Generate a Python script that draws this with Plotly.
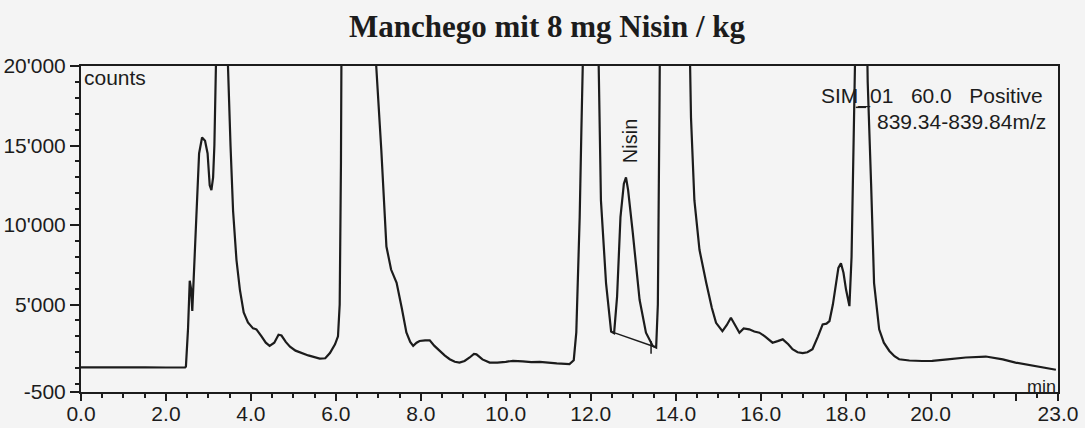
import plotly.graph_objects as go

# Chromatogram trace (time in min, intensity in counts); values above 20'000 are off-scale
time_min = [0.0, 0.5, 1.0, 1.5, 2.0, 2.45, 2.47, 2.52, 2.56, 2.59, 2.62, 2.66, 2.72, 2.78, 2.85,
            2.92, 2.98, 3.03, 3.07, 3.11, 3.14, 3.18, 3.22, 3.42, 3.46, 3.52, 3.58, 3.66, 3.74,
            3.83, 3.93, 4.05, 4.13, 4.25, 4.35, 4.44, 4.55, 4.65, 4.72, 4.82, 4.92, 5.05, 5.15,
            5.35, 5.62, 5.75, 5.86, 5.98, 6.05, 6.09, 6.12, 6.14, 6.92, 6.95, 7.07, 7.19, 7.30,
            7.43, 7.55, 7.66, 7.75, 7.82, 7.90, 7.97, 8.10, 8.21, 8.32, 8.44, 8.56, 8.68, 8.80,
            8.91, 9.03, 9.15, 9.25, 9.31, 9.45, 9.62, 9.80, 10.0, 10.17, 10.4, 10.6, 10.8, 10.95,
            11.2, 11.5, 11.60, 11.66, 11.74, 11.78, 11.82, 11.86, 12.15, 12.20, 12.24, 12.36,
            12.48, 12.55, 12.62, 12.70, 12.78, 12.83, 12.88, 12.99, 13.07, 13.15, 13.30, 13.46,
            13.54, 13.58, 13.62, 13.64, 14.30, 14.34, 14.36, 14.44, 14.56, 14.72, 14.85, 14.95,
            15.1, 15.2, 15.3, 15.4, 15.5, 15.6, 15.73, 15.85, 15.97, 16.1, 16.28, 16.4, 16.52,
            16.65, 16.75, 16.87, 16.99, 17.1, 17.22, 17.35, 17.46, 17.55, 17.62, 17.70, 17.77,
            17.83, 17.89, 17.95, 18.01, 18.09, 18.14, 18.18, 18.22, 18.26, 18.48, 18.52, 18.6,
            18.67, 18.79, 18.9, 19.03, 19.15, 19.26, 19.5, 19.8, 20.04, 20.4, 20.83, 21.3, 21.7,
            22.0, 22.5, 22.95]
counts = [1050, 1060, 1040, 1050, 1040, 1040, 1100, 3500, 6500, 6000, 4600, 7000, 11000, 14500, 15500,
          15300, 14500, 12500, 12200, 13000, 15000, 20500, 26000, 26000, 20000, 15000, 10900, 7800, 5940,
          4500, 3870, 3500, 3440, 3000, 2600, 2400, 2600, 3100, 3050, 2650, 2350, 2100, 2000,
          1800, 1600, 1620, 1950, 2500, 3000, 5000, 14000, 26000, 26000, 20000, 14700, 8650, 7200,
          6370, 4800, 3250, 2650, 2400, 2600, 2710, 2750, 2750, 2400, 2080, 1800, 1560, 1400,
          1350, 1450, 1670, 1900, 1870, 1550, 1350, 1350, 1400, 1460, 1420, 1380, 1400, 1350,
          1300, 1250, 1500, 3250, 10500, 16000, 21000, 26000, 26000, 17000, 11560, 6350,
          3300, 3200, 5500, 10500, 12600, 13000, 12200, 9500, 7300, 5300, 3230, 2400,
          2300, 5000, 18000, 26000, 26000, 20000, 16770, 11560, 8440, 6350, 4800, 3850,
          3330, 3700, 4170, 3700, 3230, 3500, 3440, 3300, 3230, 3000, 2600, 2700, 2810,
          2500, 2190, 2000, 1940, 2000, 2190, 3000, 3750, 3800, 3960, 5000, 6350,
          7300, 7600, 7000, 5940, 4900, 8000, 14000, 20000, 26000, 26000, 19000, 12600,
          6350, 3440, 2600, 2080, 1750, 1560, 1480, 1450, 1460, 1550, 1670, 1730, 1550,
          1350, 1100, 900]

# Nisin integration baseline and markers
nisin_base_t = [12.53, 13.50]
nisin_base_c = [3250, 2350]
nisin_mark_t = [13.42, 13.42]
nisin_mark_c = [2700, 1900]
sim_mark_t = [18.24, 18.48]
sim_mark_c = [17400, 17400]

x_major = [0, 2, 4, 6, 8, 10, 12, 14, 16, 18, 20, 22, 23]
x_major_text = ["0.0", "2.0", "4.0", "6.0", "8.0", "10.0", "12.0", "14.0", "16.0", "18.0", "20.0", "", "23.0"]
x_minor = [v + 0.5 for v in range(0, 23)] + [v for v in range(1, 23, 2)]
y_major = [-500, 5000, 10000, 15000, 20000]
y_major_text = ["-500", "5'000", "10'000", "15'000", "20'000"]
y_minor = [v for v in range(0, 20000, 1000) if v % 5000 != 0] + [0]

title = "Manchego mit 8 mg Nisin / kg"
ink = "#1c1c1c"
sans = "Liberation Sans, Arial"

fig = go.Figure()
fig.add_trace(go.Scatter(x=time_min, y=counts, mode="lines",
                         line=dict(color=ink, width=2.2), showlegend=False))
fig.add_trace(go.Scatter(x=nisin_base_t, y=nisin_base_c, mode="lines",
                         line=dict(color=ink, width=1.5), showlegend=False))
fig.add_trace(go.Scatter(x=nisin_mark_t, y=nisin_mark_c, mode="lines",
                         line=dict(color=ink, width=1.5), showlegend=False))
fig.add_trace(go.Scatter(x=sim_mark_t, y=sim_mark_c, mode="lines",
                         line=dict(color=ink, width=1.5), showlegend=False))

tickfont = dict(family=sans, size=21, color=ink)
fig.update_layout(
    width=1085, height=428,
    margin=dict(l=81, r=27, t=66, b=36, autoexpand=False),
    paper_bgcolor="#f4f4f4", plot_bgcolor="#f4f4f4",
    title=dict(text="<b>" + title + "</b>", x=547 / 1085, xanchor="center", y=1 - 26 / 428,
               yanchor="middle",
               font=dict(family="Liberation Serif, Times New Roman", size=31, color=ink)),
    xaxis=dict(range=[0, 23], showgrid=False, zeroline=False, showline=True, mirror=True,
               automargin=False, ticklabelstandoff=-5,
               linecolor=ink, linewidth=2, ticks="outside", ticklen=7, tickwidth=2, tickcolor=ink,
               tickmode="array", tickvals=x_major, ticktext=x_major_text, tickfont=tickfont,
               minor=dict(tickmode="array", tickvals=x_minor, ticks="outside", ticklen=4,
                          tickwidth=1.5, tickcolor=ink)),
    yaxis=dict(range=[-500, 20000], showgrid=False, zeroline=False, showline=True, mirror=True,
               automargin=False,
               linecolor=ink, linewidth=2, ticks="outside", ticklen=9, tickwidth=2, tickcolor=ink,
               tickmode="array", tickvals=y_major, ticktext=y_major_text, tickfont=tickfont,
               minor=dict(tickmode="array", tickvals=y_minor, ticks="outside", ticklen=4,
                          tickwidth=1.5, tickcolor=ink)),
    annotations=[
        dict(text="counts", xref="paper", yref="paper", x=0.0, y=1.0, xanchor="left", yanchor="top",
             xshift=1, yshift=2, showarrow=False, font=dict(family=sans, size=21, color=ink)),
        dict(text="min", xref="paper", yref="paper", x=1.0, y=0.0, xanchor="right", yanchor="bottom",
             yshift=-7, showarrow=False, font=dict(family=sans, size=18, color=ink)),
        dict(text="SIM_01   60.0   Positive", xref="paper", yref="paper", x=0.987, y=0.908,
             xanchor="right", yanchor="middle", showarrow=False,
             font=dict(family=sans, size=21, color=ink)),
        dict(text="839.34-839.84m/z", xref="paper", yref="paper", x=0.99, y=0.83,
             xanchor="right", yanchor="middle", showarrow=False,
             font=dict(family=sans, size=21, color=ink)),
        dict(text="Nisin", xref="x", yref="y", x=12.91, y=15300, textangle=-90,
             showarrow=False, font=dict(family=sans, size=20, color=ink)),
    ],
)

fig.write_html("out.html")
